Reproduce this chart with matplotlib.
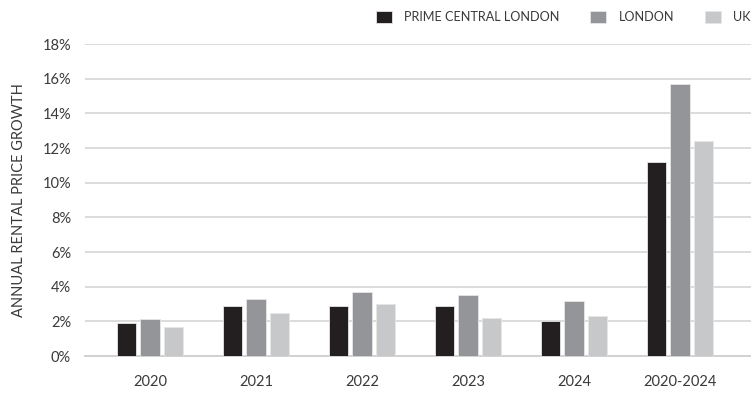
import matplotlib
matplotlib.use("Agg")
import matplotlib.pyplot as plt
import numpy as np

categories = ["2020", "2021", "2022", "2023", "2024", "2020-2024"]
series_names = ["PRIME CENTRAL LONDON", "LONDON", "UK"]
pcl = [1.9, 2.9, 2.9, 2.9, 2.0, 11.2]
london = [2.15, 3.3, 3.7, 3.5, 3.2, 15.7]
uk = [1.7, 2.5, 3.0, 2.2, 2.3, 12.4]
yticks = [0, 2, 4, 6, 8, 10, 12, 14, 16, 18]
ytick_labels = [f"{v}%" for v in yticks]
colors = ["#231f20", "#939598", "#c7c8ca"]

plt.rcParams['font.family'] = ['Lato', 'DejaVu Sans']

fig = plt.figure(figsize=(7.51, 3.94), dpi=100)
ax = fig.add_axes([85/751, 1-356/394, 1-85/751, (356-44)/394])

x = np.arange(len(categories))
offset = 0.222
width = 0.18
handles = []
for i, (vals, c, name) in enumerate(zip([pcl, london, uk], colors, series_names)):
    b = ax.bar(x + (i-1)*offset, vals, width, color=c, edgecolor="#e6e6e6",
               linewidth=0.6, label=name, zorder=3)
    handles.append(b)

ax.set_ylim(0, 18)
ax.set_xlim(-0.613, 5.67)
ax.set_yticks(yticks)
ax.set_yticklabels(ytick_labels)
ax.set_xticks(x)
ax.set_xticklabels(categories)
ax.yaxis.grid(True, color="#d9d9d9", linewidth=1.3, zorder=0)
ax.set_axisbelow(True)
for s in ["top", "right", "left"]:
    ax.spines[s].set_visible(False)
ax.spines["bottom"].set_color("#cfcfcf")
ax.spines["bottom"].set_linewidth(1.3)
ax.tick_params(axis='both', length=0, labelsize=10.5, colors="#3a3a3a")
ax.tick_params(axis='y', pad=10)
ax.tick_params(axis='x', pad=14)
ax.set_ylabel("ANNUAL RENTAL PRICE GROWTH", fontsize=10.5, color="#3a3a3a", labelpad=12)

fig.legend(handles=handles, labels=series_names, loc="upper left",
           bbox_to_anchor=(376/751, 1 - 11/394), ncol=3, frameon=False,
           borderaxespad=0, borderpad=0,
           fontsize=9.1, handlelength=1.27, handleheight=1.1,
           handletextpad=0.95, columnspacing=2.45, labelcolor="#3a3a3a")

fig.savefig("out.png", dpi=100)
